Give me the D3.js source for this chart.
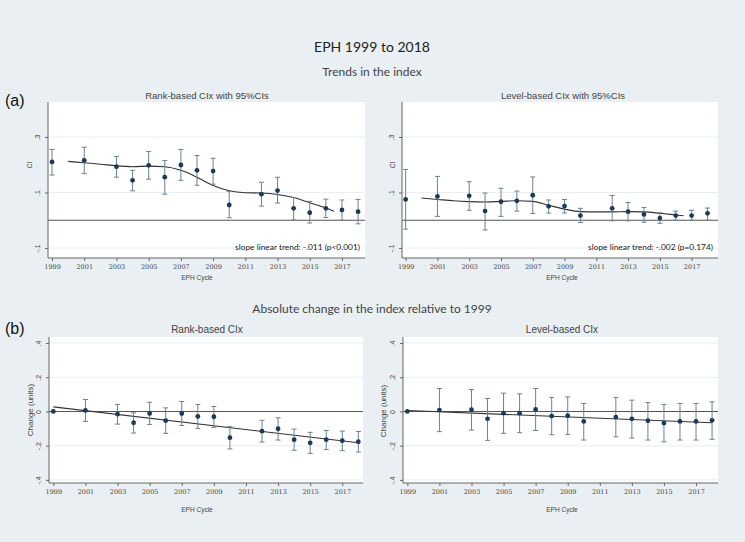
<!DOCTYPE html>
<html><head><meta charset="utf-8">
<script src="https://cdn.jsdelivr.net/npm/d3@7"></script>
<style>html,body{margin:0;padding:0;background:#e9eff2;}svg{display:block;}</style>
</head><body>
<script>
// ---------- DATA ----------
const years = [1999,2001,2003,2004,2005,2006,2007,2008,2009,2010,2012,2013,2014,2015,2016,2017,2018];

const rankCI   = [.210,.216,.193,.144,.198,.155,.199,.180,.177,.055,.094,.107,.043,.027,.043,.037,.031];
const rankLo   = [.163,.168,.155,.106,.148,.094,.144,.126,.130,.009,.051,.062,.001,-.010,.010,.000,-.013];
const rankHi   = [.255,.263,.230,.180,.248,.215,.255,.233,.223,.104,.137,.155,.082,.068,.076,.073,.075];

const levelCI  = [.075,.086,.088,.033,.067,.070,.090,.050,.051,.017,.043,.031,.021,.008,.017,.017,.025];
const levelLo  = [-.032,.014,.036,-.035,.014,.033,.024,.026,.026,-.008,-.002,-.002,-.007,-.011,.000,.000,.000];
const levelHi  = [.183,.158,.139,.098,.115,.105,.156,.073,.075,.043,.089,.064,.046,.027,.033,.036,.044];

const lowessYears = [2000,2001,2002,2003,2004,2005,2006,2007,2008,2009,2010,2011,2012,2013,2014,2015,2016,2016.5];
const rankLowess  = [.212,.207,.202,.196,.193,.195,.193,.180,.155,.125,.106,.099,.098,.093,.082,.063,.044,.032];
const levelLowess = [.080,.075,.070,.067,.066,.068,.070,.068,.054,.040,.031,.030,.030,.031,.030,.025,.019,.016];

const rankChange   = [0,.006,-.016,-.066,-.012,-.054,-.012,-.029,-.031,-.153,-.115,-.101,-.165,-.183,-.165,-.171,-.177];
const rankChangeLo = [null,-.058,-.074,-.126,-.076,-.128,-.082,-.099,-.093,-.219,-.179,-.167,-.227,-.245,-.223,-.229,-.237];
const rankChangeHi = [null,.070,.041,-.008,.054,.021,.058,.041,.029,-.089,-.052,-.037,-.103,-.122,-.111,-.115,-.117];

const levelChange   = [0,.008,.010,-.043,-.010,-.010,.012,-.027,-.025,-.058,-.033,-.043,-.054,-.068,-.058,-.058,-.052];
const levelChangeLo = [null,-.118,-.109,-.169,-.128,-.124,-.111,-.136,-.134,-.167,-.148,-.155,-.167,-.177,-.167,-.167,-.163];
const levelChangeHi = [null,.134,.128,.076,.107,.103,.134,.082,.085,.047,.082,.066,.052,.041,.047,.047,.056];

const fitYears = [1999,2018];
const rankFit  = [.027,-.183];
const levelFit = [.006,-.066];

const xTicks = [1999,2001,2003,2005,2007,2009,2011,2013,2015,2017];
const yTicksA = [.3,.1,-.1];
const yTickLabelsA = [".3",".1","-.1"];
const yTicksB = [.4,.2,0,-.2,-.4];
const yTickLabelsB = [".4",".2","0","-.2","-.4"];

// ---------- DRAW ----------
const W = 745, H = 542;
const svg = d3.select("body").append("svg").attr("width", W).attr("height", H);
svg.append("rect").attr("width", W).attr("height", H).attr("fill", "#e9eff2");

const titleFont = "Lato, 'Open Sans', sans-serif";
const armFont = "'Liberation Sans', Arial, sans-serif";

svg.append("text").attr("x", 372).attr("y", 52).attr("text-anchor","middle")
  .attr("font-family", titleFont).attr("font-size", 14).attr("fill","#222").text("EPH 1999 to 2018");
svg.append("text").attr("x", 372).attr("y", 76).attr("text-anchor","middle")
  .attr("font-family", titleFont).attr("font-size", 12).attr("fill","#444").text("Trends in the index");
svg.append("text").attr("x", 372).attr("y", 313).attr("text-anchor","middle")
  .attr("font-family", titleFont).attr("font-size", 12).attr("fill","#444").text("Absolute change in the index relative to 1999");
svg.append("text").attr("x", 5).attr("y", 106)
  .attr("font-family", armFont).attr("font-size", 16).attr("fill","#111").text("(a)");
svg.append("text").attr("x", 5).attr("y", 334)
  .attr("font-family", armFont).attr("font-size", 16).attr("fill","#111").text("(b)");

function panel(o) {
  const g = svg.append("g");
  const x = d3.scaleLinear().domain(o.xDomain).range([o.left, o.right]);
  const y = d3.scaleLinear().domain(o.yDomain).range([o.bottom, o.top]);

  g.append("rect").attr("x", o.left).attr("y", o.top)
    .attr("width", o.right - o.left).attr("height", o.bottom - o.top).attr("fill", "#fff");

  // gridlines
  g.selectAll(".grid").data(o.yTicks.filter(v => v !== 0)).join("line")
    .attr("x1", o.left).attr("x2", o.right)
    .attr("y1", d => y(d)).attr("y2", d => y(d))
    .attr("stroke", "#eaeef1").attr("stroke-width", 1);

  // panel title
  g.append("text").attr("x", o.titleX).attr("y", o.titleY).attr("text-anchor","middle")
    .attr("font-family", armFont).attr("font-size", o.titleSize).attr("fill","#444").text(o.title);

  // zero reference line
  g.append("line").attr("x1", o.left).attr("x2", o.right)
    .attr("y1", y(0)).attr("y2", y(0)).attr("stroke", "#555").attr("stroke-width", 1.1);

  // axes
  const xAxis = d3.axisBottom(x).tickValues(xTicks).tickFormat(d3.format("d")).tickSize(3).tickPadding(3);
  const gx = g.append("g").attr("transform", `translate(0,${o.bottom})`).call(xAxis);
  gx.select(".domain").attr("stroke", "#666").attr("d", `M${o.left},0H${o.right}`);
  gx.selectAll(".tick line").attr("stroke", "#666");
  gx.selectAll("text").attr("font-family", "'DejaVu Serif', serif").attr("font-size", 6.5).attr("fill", "#444");

  const yAxis = d3.axisLeft(y).tickValues(o.yTicks).tickFormat((d,i) => o.yTickLabels[i]).tickSize(3).tickPadding(0);
  const gy = g.append("g").attr("transform", `translate(${o.left},0)`).call(yAxis);
  gy.select(".domain").attr("stroke", "#666").attr("d", `M0,${o.top}V${o.bottom}`);
  gy.selectAll(".tick line").attr("stroke", "#666");
  gy.selectAll(".tick text").attr("font-family", armFont).attr("font-size", 7).attr("fill", "#444")
    .attr("x", null).attr("dy", null).attr("text-anchor", "middle")
    .attr("transform", "translate(-8,0) rotate(-90)").attr("y", 0);

  // axis titles
  g.append("text").attr("x", o.xTitleX).attr("y", o.xTitleY).attr("text-anchor","middle")
    .attr("font-family", armFont).attr("font-size", 6.5).attr("fill","#444").text("EPH Cycle");
  g.append("text").attr("transform", `translate(${o.yTitleX},${o.yTitleY}) rotate(-90)`)
    .attr("text-anchor","middle").attr("font-family", armFont).attr("font-size", o.yTitleSize)
    .attr("fill","#444").text(o.yTitle);

  // trend line
  const line = d3.line().x(d => x(d[0])).y(d => y(d[1])).curve(d3.curveMonotoneX);
  g.append("path").datum(o.lineX.map((v,i) => [v, o.lineY[i]]))
    .attr("d", line).attr("fill", "none").attr("stroke", "#333").attr("stroke-width", 1.1);

  // error bars
  const pts = years.map((yr,i) => ({yr, v: o.vals[i], lo: o.lo[i], hi: o.hi[i]}));
  const ci = pts.filter(d => d.lo !== null);
  const eb = g.append("g").attr("stroke", "#6d8090").attr("stroke-width", 1);
  eb.selectAll(".v").data(ci).join("line")
    .attr("x1", d => x(d.yr)).attr("x2", d => x(d.yr)).attr("y1", d => y(d.lo)).attr("y2", d => y(d.hi));
  eb.selectAll(".c1").data(ci).join("line")
    .attr("x1", d => x(d.yr) - 2.5).attr("x2", d => x(d.yr) + 2.5).attr("y1", d => y(d.lo)).attr("y2", d => y(d.lo));
  eb.selectAll(".c2").data(ci).join("line")
    .attr("x1", d => x(d.yr) - 2.5).attr("x2", d => x(d.yr) + 2.5).attr("y1", d => y(d.hi)).attr("y2", d => y(d.hi));

  // markers
  g.selectAll(".pt").data(pts).join("circle")
    .attr("cx", d => x(d.yr)).attr("cy", d => y(d.v)).attr("r", 2.4).attr("fill", "#1b3a5a");

  if (o.note) {
    g.append("text").attr("x", o.noteX).attr("y", o.noteY).attr("text-anchor","end")
      .attr("font-family", titleFont).attr("font-size", 8.4).attr("fill","#222").text(o.note);
  }
}

panel({ left:48, right:365, top:102, bottom:258, xDomain:[1998.75,2018.43], yDomain:[-0.136,0.426],
  yTicks:yTicksA, yTickLabels:yTickLabelsA, title:"Rank-based CIx with 95%CIs", titleX:207, titleY:99, titleSize:9.5,
  xTitleX:197, xTitleY:280, yTitle:"CI", yTitleX:32, yTitleY:165, yTitleSize:6.5,
  vals:rankCI, lo:rankLo, hi:rankHi, lineX:lowessYears, lineY:rankLowess,
  note:"slope linear trend: -.011 (p<0.001)", noteX:360, noteY:250 });

panel({ left:402, right:718, top:102, bottom:258, xDomain:[1998.77,2018.66], yDomain:[-0.136,0.426],
  yTicks:yTicksA, yTickLabels:yTickLabelsA, title:"Level-based CIx with 95%CIs", titleX:563, titleY:99, titleSize:9.5,
  xTitleX:562, xTitleY:280, yTitle:"CI", yTitleX:395, yTitleY:165, yTitleSize:6.5,
  vals:levelCI, lo:levelLo, hi:levelHi, lineX:lowessYears, lineY:levelLowess,
  note:"slope linear trend: -.002 (p=0.174)", noteX:713, noteY:250 });

panel({ left:49, right:363, top:337, bottom:483, xDomain:[1998.73,2018.29], yDomain:[-0.418,0.435],
  yTicks:yTicksB, yTickLabels:yTickLabelsB, title:"Rank-based CIx", titleX:207, titleY:333, titleSize:10,
  xTitleX:197, xTitleY:512, yTitle:"Change (units)", yTitleX:33, yTitleY:410, yTitleSize:8,
  vals:rankChange, lo:rankChangeLo, hi:rankChangeHi, lineX:fitYears, lineY:rankFit });

panel({ left:403, right:718, top:337, bottom:483, xDomain:[1998.73,2018.37], yDomain:[-0.418,0.435],
  yTicks:yTicksB, yTickLabels:yTickLabelsB, title:"Level-based CIx", titleX:562, titleY:333, titleSize:10,
  xTitleX:562, xTitleY:512, yTitle:"Change (units)", yTitleX:386, yTitleY:411, yTitleSize:8,
  vals:levelChange, lo:levelChangeLo, hi:levelChangeHi, lineX:fitYears, lineY:levelFit });
</script>
</body></html>
